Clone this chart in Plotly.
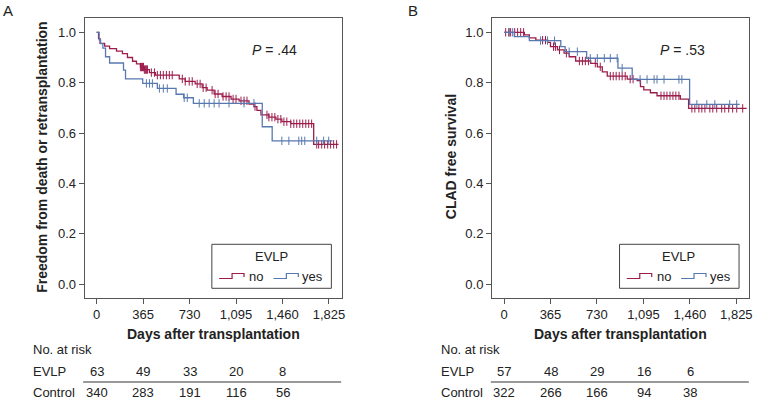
import numpy as np
import plotly.graph_objects as go

W, H = 757, 402

# ---- data ----
ticks = [0, 365, 730, 1095, 1460, 1825]
tick_text = ["0", "365", "730", "1,095", "1,460", "1,825"]

# panel A : freedom from death or retransplantation
a_no_t = [15, 27, 63, 102, 156, 203, 242, 282, 313, 344, 375, 415, 462, 649, 696, 774, 829, 868,
          923, 986, 1056, 1119, 1197, 1236, 1259, 1291, 1353, 1408, 1455, 1525, 1705]
a_no_s = [0.975, 0.956, 0.945, 0.935, 0.925, 0.915, 0.90, 0.885, 0.875, 0.862, 0.852, 0.84, 0.83,
          0.815, 0.805, 0.795, 0.78, 0.77, 0.755, 0.745, 0.735, 0.728, 0.715, 0.705, 0.69, 0.672,
          0.663, 0.655, 0.645, 0.637, 0.555]
a_no_end = 1900
a_no_cens = [344, 352, 360, 368, 375, 383, 391, 399, 430, 454, 477, 501, 524, 548, 571, 594, 673, 696,
             727, 751, 790, 813, 837, 860, 907, 931, 954, 993, 1017, 1040, 1072, 1095, 1134, 1158,
             1181, 1244, 1338, 1353, 1377, 1400, 1424, 1447, 1471, 1494, 1525, 1549, 1572, 1596,
             1619, 1643, 1666, 1689, 1729, 1744, 1768, 1791, 1815, 1838, 1862, 1885]

a_yes_t = [20, 31, 49, 70, 102, 211, 227, 362, 477, 624, 683, 760, 1301, 1379]
a_yes_s = [0.97, 0.955, 0.937, 0.903, 0.878, 0.85, 0.815, 0.797, 0.777, 0.754, 0.74, 0.718, 0.625, 0.569]
a_yes_end = 1854
a_yes_cens = [391, 415, 438, 493, 524, 555, 688, 712, 806, 845, 884, 923, 962, 1040, 1158, 1236,
              1455, 1510, 1588, 1611, 1635, 1729, 1783, 1823]

# panel B : CLAD free survival
b_no_t = [160, 199, 250, 342, 365, 420, 472, 512, 563, 681, 733, 772, 811, 968, 1046, 1072, 1098,
          1150, 1202, 1385, 1450]
b_no_s = [0.99, 0.978, 0.969, 0.96, 0.943, 0.93, 0.917, 0.903, 0.886, 0.877, 0.863, 0.843, 0.826,
          0.814, 0.808, 0.784, 0.771, 0.76, 0.748, 0.735, 0.698]
b_no_end = 1906
b_no_cens = [13, 37, 52, 84, 107, 131, 154, 303, 326, 389, 404, 436, 490, 592, 616, 639, 663, 717,
             756, 835, 858, 881, 905, 928, 952, 991, 1014, 1233, 1257, 1280, 1304, 1327, 1350, 1374,
             1476, 1499, 1531, 1554, 1578, 1617, 1640, 1671, 1710, 1734, 1765, 1796, 1828, 1875]

b_yes_t = [81, 199, 446, 480, 649, 895, 1007, 1458]
b_yes_s = [0.983, 0.967, 0.943, 0.923, 0.897, 0.858, 0.813, 0.714]
b_yes_end = 1851
b_yes_cens = [42, 68, 287, 342, 397, 512, 576, 678, 733, 788, 835, 889, 928, 1069, 1124, 1179,
              1202, 1257, 1374, 1397, 1515, 1593, 1656, 1773, 1828]

risk_a_evlp = [63, 49, 33, 20, 8]
risk_a_ctrl = [340, 283, 191, 116, 56]
risk_b_evlp = [57, 48, 29, 16, 6]
risk_b_ctrl = [322, 266, 166, 94, 38]

p_a = "<i>P</i> = .44"
p_b = "<i>P</i> = .53"

RED = "#9c1d4b"
BLUE = "#5879b0"
FONT = "Arial, Liberation Sans, sans-serif"
TXT = "#222222"


def px(x):
    return x / W


def py(y):
    return 1 - y / H


def surv_at(times, surv, t):
    i = np.searchsorted(times, t, side="right") - 1
    return 1.0 if i < 0 else surv[i]


def km_traces(times, surv, end, cens, color, xa, ya):
    xs = [0] + list(times) + [end]
    ys = [1.0] + list(surv) + [surv[-1]]
    line = go.Scatter(x=xs, y=ys, mode="lines", line=dict(color=color, width=1.3, shape="hv"),
                      xaxis=xa, yaxis=ya, showlegend=False, hoverinfo="skip")
    cy = [surv_at(times, surv, t) for t in cens]
    marks = go.Scatter(x=cens, y=cy, mode="markers",
                       marker=dict(symbol="line-ns-open", size=6, color=color,
                                   line=dict(color=color, width=1)),
                       xaxis=xa, yaxis=ya, showlegend=False, hoverinfo="skip")
    return [line, marks]


fig = go.Figure()
for tr in km_traces(a_no_t, a_no_s, a_no_end, a_no_cens, RED, "x", "y"):
    fig.add_trace(tr)
for tr in km_traces(a_yes_t, a_yes_s, a_yes_end, a_yes_cens, BLUE, "x", "y"):
    fig.add_trace(tr)
for tr in km_traces(b_no_t, b_no_s, b_no_end, b_no_cens, RED, "x2", "y2"):
    fig.add_trace(tr)
for tr in km_traces(b_yes_t, b_yes_s, b_yes_end, b_yes_cens, BLUE, "x2", "y2"):
    fig.add_trace(tr)

xax = dict(range=[-94, 1927], tickvals=ticks, ticktext=tick_text, ticks="outside", ticklen=5,
           tickcolor="#555", showline=True, linecolor="#555", linewidth=1, mirror=True,
           showgrid=False, zeroline=False, tickfont=dict(size=13, color=TXT, family=FONT))
yax = dict(range=[-0.054, 1.058], tickvals=[0, 0.2, 0.4, 0.6, 0.8, 1.0],
           ticktext=["0.0", "0.2", "0.4", "0.6", "0.8", "1.0"], ticks="outside", ticklen=5,
           tickcolor="#555", showline=True, linecolor="#555", linewidth=1, mirror=True,
           showgrid=False, zeroline=False, tickfont=dict(size=13, color=TXT, family=FONT))

fig.update_layout(
    width=W, height=H, margin=dict(l=0, r=0, t=0, b=0),
    paper_bgcolor="white", plot_bgcolor="white",
    xaxis=dict(xax, domain=[px(85), px(343.3)], anchor="y"),
    yaxis=dict(yax, domain=[py(297.7), py(17.7)], anchor="x"),
    xaxis2=dict(xax, domain=[px(494), px(752.3)], anchor="y2"),
    yaxis2=dict(yax, domain=[py(297.7), py(17.7)], anchor="x2"),
    font=dict(family=FONT, color=TXT),
)

ann = []
shapes = []


def text(x, y, s, size=13, bold=False, xanchor="center", angle=0):
    if bold:
        s = "<b>" + s + "</b>"
    ann.append(dict(x=px(x), y=py(y), xref="paper", yref="paper", text=s, showarrow=False,
                    xanchor=xanchor, yanchor="middle", textangle=angle,
                    font=dict(size=size, family=FONT, color=TXT)))


def xpos(day, off):
    return off + 97 + day * 233.3 / 1825


panels = [
    (0, "A", 8, "Freedom from death or retransplantation", 42, p_a, risk_a_evlp, risk_a_ctrl),
    (409.3, "B", 415, "CLAD free survival", 453, p_b, risk_b_evlp, risk_b_ctrl),
]

for off, letter, lx, ytitle, ytx, ptxt, r_evlp, r_ctrl in panels:
    text(lx, 10, letter, size=15)
    text(ytx, 157, ytitle, size=14, bold=True, angle=-90)
    text(off + 214, 334, "Days after transplantation", size=14, bold=True)
    text(off + 276, 50, ptxt, size=14)

    # legend box
    shapes.append(dict(type="rect", xref="paper", yref="paper",
                       x0=px(off + 212.7), x1=px(off + 332.7), y0=py(288.3), y1=py(244.3),
                       line=dict(color="#444", width=1), fillcolor="white"))
    text(off + 272.3, 256.5, "EVLP", size=13)
    for x0, col, lab, lx0 in [(220, RED, "no", 257), (274.5, BLUE, "yes", 314)]:
        path = "M {} {} L {} {} L {} {} L {} {} L {} {}".format(
            px(off + x0), py(278.5), px(off + x0 + 13), py(278.5), px(off + x0 + 13), py(273.5),
            px(off + x0 + 25), py(273.5), px(off + x0 + 25), py(277))
        shapes.append(dict(type="path", xref="paper", yref="paper", path=path,
                           line=dict(color=col, width=1.2)))
        text(off + lx0, 276.5, lab, size=13)

    # number at risk table
    text(off + 31, 349, "No. at risk", size=13, xanchor="left")
    text(off + 31, 371.7, "EVLP", size=13, xanchor="left")
    text(off + 31, 392, "Control", size=13, xanchor="left")
    for i in range(5):
        text(xpos(ticks[i], off), 371.7, str(r_evlp[i]), size=13)
        text(xpos(ticks[i], off), 392, str(r_ctrl[i]), size=13)
    shapes.append(dict(type="line", xref="paper", yref="paper", x0=px(off + 83.5), x1=px(off + 342.5),
                       y0=py(382), y1=py(382), line=dict(color="#333", width=1)))

fig.update_layout(annotations=ann, shapes=shapes)
fig.write_html("out.html", config={"displayModeBar": False},
               post_script="document.body.style.margin='0';")
